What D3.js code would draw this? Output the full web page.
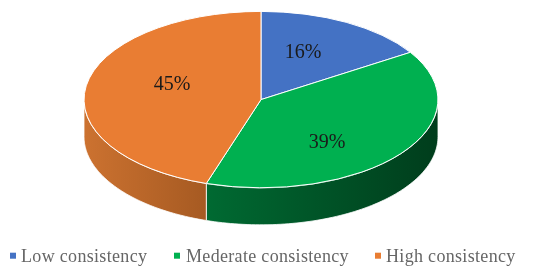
<!DOCTYPE html>
<html><head><meta charset="utf-8">
<script src="https://cdn.jsdelivr.net/npm/d3@7/dist/d3.min.js"></script>
<style>html,body{margin:0;padding:0;background:#fff}svg{display:block;filter:blur(0.4px)}text{font-family:"Liberation Serif",serif}</style>
</head><body><svg id="c" width="550" height="275"></svg>
<script>
const categories=["Low consistency","Mederate consistency","High consistency"];
const values=[16,39,45];
const labels=["16%","39%","45%"];
const colors=["#4472c4","#00b050","#e97d33"];
const sideStops=[null,["#006a32","#003d1c"],["#cc7230","#a65a22"]];
const labelPos=[[303,49],[327,138.5],[172,81]];
const legendX=[10,174,375];
const legendTextX=[21,186,386];

const W=550,H=275,cx=261,cy=99.6,rx=177,ry=88.2,depth=37;
const svg=d3.select("#c");
const defs=svg.append("defs");
const px=d3.scaleLinear().domain([-1,1]).range([cx-rx,cx+rx]);
const py=d3.scaleLinear().domain([-1,1]).range([cy-ry,cy+ry]);
const pie=d3.pie().sort(null).value(d=>d);
const arcs=pie(values);
const pt=a=>[px(Math.sin(a)),py(-Math.cos(a))];

// side wall
arcs.forEach((d,i)=>{
  const a0=Math.max(d.startAngle,Math.PI/2),a1=Math.min(d.endAngle,Math.PI*1.5);
  if(a1<=a0||!sideStops[i])return;
  const n=80,as=d3.range(n+1).map(k=>a0+(a1-a0)*k/n);
  const g=defs.append("linearGradient").attr("id","s"+i).attr("gradientUnits","userSpaceOnUse")
    .attr("x1",d3.min(as,a=>pt(a)[0])).attr("x2",d3.max(as,a=>pt(a)[0])).attr("y1",0).attr("y2",0);
  g.append("stop").attr("offset",0).attr("stop-color",sideStops[i][0]);
  g.append("stop").attr("offset",1).attr("stop-color",sideStops[i][1]);
  const area=d3.area().x(a=>pt(a)[0]).y0(a=>pt(a)[1]).y1(a=>pt(a)[1]+depth);
  svg.append("path").attr("d",area(as)).attr("fill",`url(#s${i})`).attr("stroke","#fff").attr("stroke-width",0.8);
});
// top
const arc=d3.arc().innerRadius(0).outerRadius(1);
svg.append("g").attr("transform",`translate(${cx},${cy}) scale(${rx},${ry})`)
  .selectAll("path").data(arcs).join("path")
  .attr("d",arc).attr("fill",(d,i)=>colors[i])
  .attr("stroke","#fff").attr("stroke-width",1).attr("vector-effect","non-scaling-stroke");
// labels
svg.selectAll("text.l").data(labels).join("text").attr("class","l")
  .attr("x",(d,i)=>labelPos[i][0]).attr("y",(d,i)=>labelPos[i][1]+9)
  .attr("text-anchor","middle").attr("font-size",20).attr("fill","#1a1a1a").text(d=>d);
// legend
const lg=svg.selectAll("g.k").data(categories).join("g").attr("class","k");
lg.append("rect").attr("x",(d,i)=>legendX[i]).attr("y",252.7).attr("width",6).attr("height",6).attr("fill",(d,i)=>colors[i]);
lg.append("text").attr("x",(d,i)=>legendTextX[i]).attr("y",261.5).attr("font-size",18).attr("letter-spacing",0.32).attr("fill","#666").text(d=>d);
</script></body></html>
